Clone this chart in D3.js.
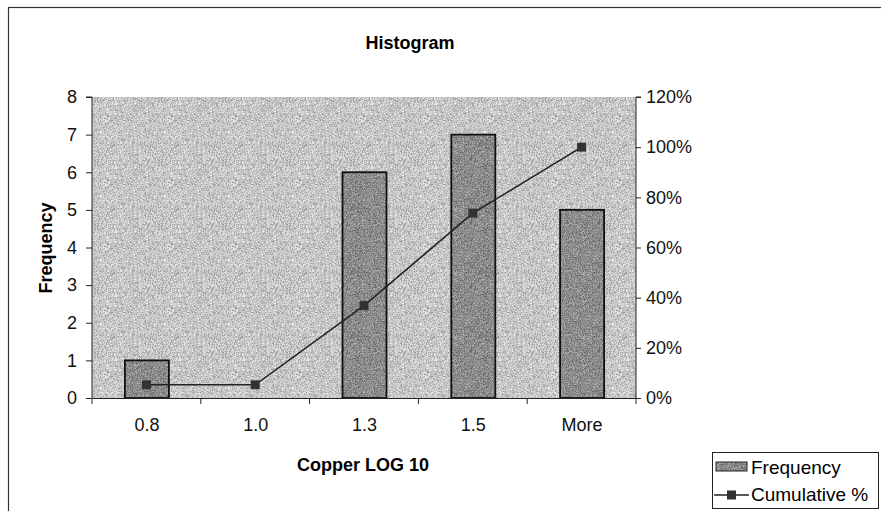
<!DOCTYPE html>
<html><head><meta charset="utf-8">
<script src="https://cdn.jsdelivr.net/npm/d3@7"></script>
<style>body{margin:0;background:#fff}svg{display:block}text{font-family:"Liberation Sans",Arial,sans-serif}</style>
</head><body>
<svg id="c" width="881" height="511"></svg>
<script>
const categories = ["0.8","1.0","1.3","1.5","More"];
const frequency = [1,0,6,7,5];
const cumulative = [0.0526,0.0526,0.3684,0.7368,1.0];
const leftTicks = [0,1,2,3,4,5,6,7,8];
const rightTicks = [0,0.2,0.4,0.6,0.8,1.0,1.2];

const svg = d3.select("#c");
const defs = svg.append("defs");
function noisePattern(id, base, dark, light, density, seed){
  const N = 64;
  const p = defs.append("pattern").attr("id",id).attr("patternUnits","userSpaceOnUse").attr("width",N).attr("height",N);
  p.append("rect").attr("width",N).attr("height",N).attr("fill",base);
  let s = seed;
  const rnd = ()=>{ s = (s*16807)%2147483647; return s/2147483647; };
  const cells = [];
  for(let i=0;i<density;i++){
    cells.push([Math.floor(rnd()*N),Math.floor(rnd()*N), rnd()<0.5?dark:light]);
  }
  p.selectAll("rect.n").data(cells).join("rect").attr("class","n").attr("x",d=>d[0]).attr("y",d=>d[1]).attr("width",1).attr("height",1).attr("fill",d=>d[2]);
}
noisePattern("bgp","#c6c6c6","#a2a2a2","#e6e6e6",1800,12345);
noisePattern("barp","#8c8c8c","#6c6c6c","#acacac",1800,54321);

// outer frame
svg.append("rect").attr("x",8.5).attr("y",7.5).attr("width",890).attr("height",520).attr("fill","none").attr("stroke","#333").attr("stroke-width",1.2);

const L=92, R=636, T=97, B=398;
const xc = d3.scalePoint().domain(categories).range([L,R]).padding(0.5);
const y = d3.scaleLinear().domain([0,8]).range([B,T]);
const y2 = d3.scaleLinear().domain([0,1.2]).range([B,T]);

svg.append("rect").attr("x",L).attr("y",T).attr("width",R-L).attr("height",B-T).attr("fill","url(#bgp)");

svg.append("text").attr("x",410).attr("y",49).attr("text-anchor","middle").attr("font-weight","bold").attr("font-size",18)
  .style("font-family","'Liberation Sans Narrow','Liberation Sans',Arial,sans-serif").text("Histogram");

// bars
const bw = 44;
svg.selectAll("rect.bar").data(frequency).join("rect").attr("class","bar")
  .attr("x",(d,i)=>xc(categories[i])-bw/2+0.5).attr("y",d=>y(d)).attr("width",bw).attr("height",d=>B-y(d))
  .attr("fill","url(#barp)").attr("stroke","#111").attr("stroke-width",1.8)
  .style("display",d=>d>0?null:"none");

// axes
const gl = svg.append("g").attr("transform",`translate(${L},0)`)
  .call(d3.axisLeft(y).tickValues(leftTicks).tickSize(6).tickPadding(9).tickFormat(d3.format("d")));
const gr = svg.append("g").attr("transform",`translate(${R},0)`)
  .call(d3.axisRight(y2).tickValues(rightTicks).tickSize(5).tickPadding(5).tickFormat(d3.format(".0%")));
const gb = svg.append("g").attr("transform",`translate(0,${B})`)
  .call(d3.axisBottom(xc).tickSize(0).tickPadding(20));
const bounds = d3.range(categories.length+1).map(i=>L+i*(R-L)/categories.length);
svg.selectAll("line.bt").data(bounds).join("line").attr("class","bt").attr("x1",d=>d).attr("x2",d=>d).attr("y1",B).attr("y2",B+6).attr("stroke","#222");
[gl,gr,gb].forEach(g=>{g.attr("font-size",18).selectAll("text").attr("font-size",18).attr("fill","#111").style("font-family","'Liberation Sans',Arial,sans-serif");
  g.selectAll("line,path").attr("stroke","#222");});
gl.select("path.domain").attr("d",`M-6,${T}H0V${B}`);
gr.select("path.domain").attr("d",`M5,${T}H0V${B}`);

// line
const line = d3.line().x((d,i)=>xc(categories[i])).y(d=>y2(d));
svg.append("path").datum(cumulative).attr("d",line).attr("fill","none").attr("stroke","#222").attr("stroke-width",1.6);
svg.selectAll("rect.mk").data(cumulative).join("rect").attr("class","mk")
  .attr("x",(d,i)=>xc(categories[i])-4.5).attr("y",d=>y2(d)-4.5).attr("width",9).attr("height",9).attr("fill","#333");

// axis titles
svg.append("text").attr("transform","translate(52,248) rotate(-90)").attr("text-anchor","middle").attr("font-weight","bold").attr("font-size",18).text("Frequency");
svg.append("text").attr("x",363).attr("y",471).attr("text-anchor","middle").attr("font-weight","bold").attr("font-size",18).text("Copper LOG 10");

// legend
const lg = svg.append("g");
lg.append("rect").attr("x",712.5).attr("y",452.5).attr("width",166).attr("height",56).attr("fill","#fff").attr("stroke","#222");
lg.append("rect").attr("x",716).attr("y",462).attr("width",31).attr("height",9).attr("fill","url(#barp)").attr("stroke","#222");
lg.append("text").attr("x",751).attr("y",474).attr("font-size",19).text("Frequency");
lg.append("line").attr("x1",714).attr("x2",749).attr("y1",495).attr("y2",495).attr("stroke","#222").attr("stroke-width",1.6);
lg.append("rect").attr("x",727).attr("y",490.5).attr("width",9).attr("height",9).attr("fill","#333");
lg.append("text").attr("x",751).attr("y",501).attr("font-size",19).text("Cumulative %");
</script>
</body></html>
